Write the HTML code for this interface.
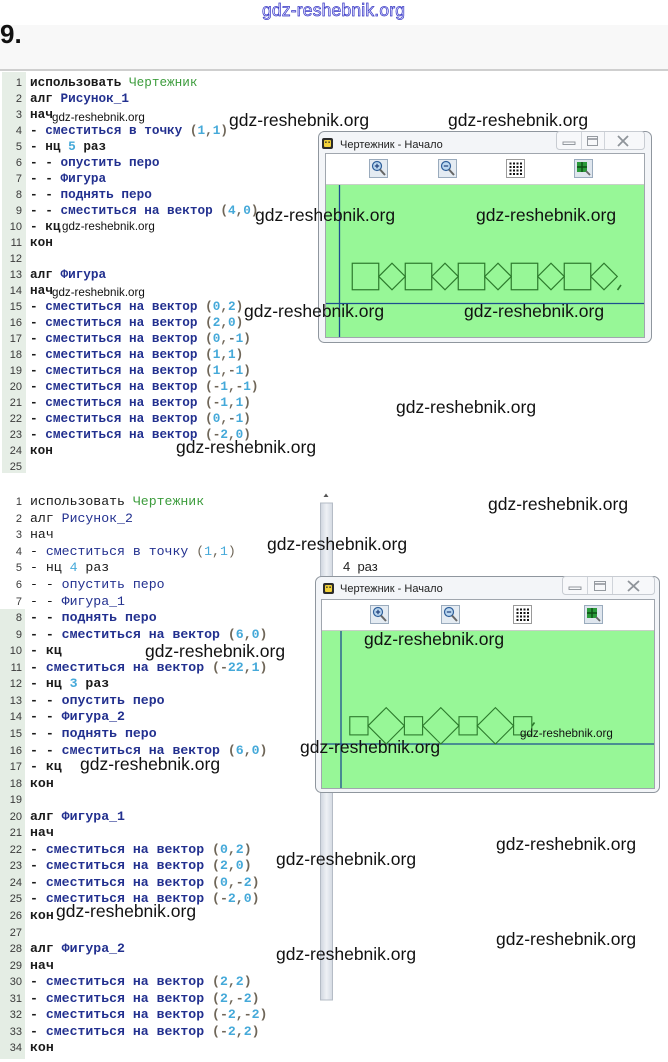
<!DOCTYPE html>
<html><head><meta charset="utf-8">
<style>
html,body{margin:0;padding:0;}
body{width:668px;height:1062px;position:relative;overflow:hidden;background:#fff;font-family:"Liberation Sans","Noto Sans CJK SC",sans-serif;}
.abs{position:absolute;}
.code{position:absolute;left:0;font-family:"Liberation Mono","DejaVu Sans Mono",monospace;font-weight:bold;color:#1a1a1a;}
.code .l{position:relative;padding-left:30px;white-space:pre;}
.code .l i{position:absolute;left:0;width:22px;text-align:right;font-style:normal;font-weight:normal;font-family:"Liberation Sans",sans-serif;font-size:11px;color:#3a3a3a;}
.c1{top:74.6px;font-size:12.7px;}
.c1 .l{height:16px;line-height:16px;}
.c2{top:494.3px;font-size:13.2px;}
.c2 .l{height:16.55px;line-height:16.55px;}
.c2 .lt{font-weight:normal;}
.g{color:#3c9c3c;font-weight:normal;}
.b{color:#22308f;}
.n{color:#45a9d9;}
.p{color:#6f6658;}
.wm{position:absolute;font-family:"Liberation Sans",sans-serif;font-size:17.5px;line-height:20px;color:#111;white-space:nowrap;}
.ws{position:absolute;font-family:"Liberation Sans",sans-serif;font-size:11.6px;line-height:13px;color:#111;white-space:nowrap;}
</style></head>
<body>
<!-- header background -->
<div class="abs" style="left:0;top:25px;width:668px;height:45px;background:#f8f8f8;"></div>
<div class="abs" style="left:0;top:69px;width:668px;height:2px;background:#cfcfcf;"></div>
<!-- gutters -->
<div class="abs" style="left:2px;top:72px;width:24px;height:401px;background:#e6eee6;"></div>
<div class="abs" style="left:0;top:609px;width:25px;height:450px;background:#e4ede4;"></div>

<svg class="abs" style="left:0;top:0" width="668" height="1062" viewBox="0 0 668 1062" xmlns="http://www.w3.org/2000/svg">
  <text x="262" y="16" font-family="Liberation Sans, sans-serif" font-size="17.5" textLength="143" fill="#e4e4ff" stroke="#3636c4" stroke-width="0.7">gdz-reshebnik.org</text>
  <text x="0" y="43" font-family="Liberation Sans, sans-serif" font-size="26" font-weight="bold" fill="#111">9.</text>

  <!-- scrollbar -->
  <defs>
    <linearGradient id="sb" x1="0" x2="1" y1="0" y2="0">
      <stop offset="0" stop-color="#cfd5de"/><stop offset="0.5" stop-color="#eef1f5"/><stop offset="1" stop-color="#d3d9e2"/>
    </linearGradient>
  </defs>
  <rect x="320.5" y="503" width="12" height="497" fill="url(#sb)" stroke="#b5bcc6"/>
  <path d="M323.5 497 L326 493.5 L328.5 497 Z" fill="#555"/>

  <!-- WINDOW 1 -->
  <rect x="318.5" y="131.5" width="333" height="211" rx="6" fill="#f3f5f8" stroke="#8f969e"/>
  <rect x="322" y="138" width="11" height="11" rx="2" fill="#2b2b2b"/>
  <rect x="324" y="140" width="7" height="7" rx="1" fill="#f2d23a"/>
  <rect x="325.2" y="141.5" width="1.4" height="1.4" fill="#222"/><rect x="328.4" y="141.5" width="1.4" height="1.4" fill="#222"/>
  <text x="340" y="148" font-family="Liberation Sans, sans-serif" font-size="11" fill="#222">Чертежник - Начало</text>
  <rect x="556.5" y="131.5" width="88" height="18" rx="3" fill="#f7f8fa" stroke="#c8ccd2"/>
  <line x1="581.5" y1="132" x2="581.5" y2="149" stroke="#d0d4da"/>
  <line x1="604.5" y1="132" x2="604.5" y2="149" stroke="#d0d4da"/>
  <rect x="563" y="142" width="12" height="2.5" fill="none" stroke="#8a8f96" stroke-width="0.9"/>
  <rect x="587.5" y="136.5" width="10" height="9" fill="none" stroke="#8a8f96" stroke-width="0.9"/>
  <line x1="588" y1="139" x2="597" y2="139" stroke="#8a8f96" stroke-width="1.5"/>
  <path d="M618 136 L628 146 M628 136 L618 146" stroke="#8f949a" stroke-width="1.8"/>
  <rect x="325.5" y="153.5" width="319" height="184" fill="#fff" stroke="#a0a6ae"/>
  <rect x="326" y="185" width="318" height="152" fill="#97f797"/>
  <line x1="326" y1="184.5" x2="644" y2="184.5" stroke="#c8d0c8"/>
  <!-- toolbar icons w1 -->
  <g>
    <rect x="369.5" y="159.5" width="18" height="18" fill="#e4ebf2" stroke="#9aabbd"/>
    <circle cx="377" cy="166" r="4.5" fill="#bcd8f0" stroke="#2f5f9a" stroke-width="1.2"/>
    <path d="M374.8 166 H379.2 M377 163.8 V168.2" stroke="#1f3f7a" stroke-width="1.2"/>
    <line x1="380" y1="169.5" x2="385" y2="175" stroke="#666" stroke-width="2"/>
  </g>
  <g>
    <rect x="438.5" y="159.5" width="18" height="18" fill="#e4ebf2" stroke="#9aabbd"/>
    <circle cx="446" cy="166" r="4.5" fill="#bcd8f0" stroke="#2f5f9a" stroke-width="1.2"/>
    <path d="M443.8 166 H448.2" stroke="#1f3f7a" stroke-width="1.2"/>
    <line x1="449" y1="169.5" x2="454" y2="175" stroke="#666" stroke-width="2"/>
  </g>
  <g>
    <rect x="506.5" y="159.5" width="18" height="18" fill="#fff" stroke="#9a9a9a"/>
    <g fill="#111">
      <rect x="509.5" y="162.5" width="2" height="2"/><rect x="513" y="162.5" width="2" height="2"/><rect x="516.5" y="162.5" width="2" height="2"/><rect x="520" y="162.5" width="2" height="2"/>
      <rect x="509.5" y="166" width="2" height="2"/><rect x="513" y="166" width="2" height="2"/><rect x="516.5" y="166" width="2" height="2"/><rect x="520" y="166" width="2" height="2"/>
      <rect x="509.5" y="169.5" width="2" height="2"/><rect x="513" y="169.5" width="2" height="2"/><rect x="516.5" y="169.5" width="2" height="2"/><rect x="520" y="169.5" width="2" height="2"/>
      <rect x="509.5" y="173" width="2" height="2"/><rect x="513" y="173" width="2" height="2"/><rect x="516.5" y="173" width="2" height="2"/><rect x="520" y="173" width="2" height="2"/>
    </g>
  </g>
  <g>
    <rect x="574.5" y="159.5" width="18" height="18" fill="#dfe6ee" stroke="#9aabbd"/>
    <rect x="577" y="162" width="10" height="10" fill="#2a9a3a"/>
    <path d="M582 162 V172 M577 167 H587" stroke="#0d4d15" stroke-width="1.4"/>
    <line x1="586" y1="171" x2="590" y2="175" stroke="#666" stroke-width="1.8"/>
  </g>
  <!-- axes w1 -->
  <line x1="339.5" y1="185" x2="339.5" y2="337" stroke="#1d4f8f" stroke-width="1.3"/>
  <line x1="326" y1="303.5" x2="644" y2="303.5" stroke="#1d4f8f" stroke-width="1.3"/>
  <!-- figures w1 -->
  <g fill="none" stroke="#2c7a2c" stroke-width="1.2">
    <rect x="352.25" y="263.25" width="26.5" height="26.5"/>
    <path d="M378.75 276.5 L392 263.25 L405.25 276.5 L392 289.75 Z"/>
    <rect x="405.25" y="263.25" width="26.5" height="26.5"/>
    <path d="M431.75 276.5 L445 263.25 L458.25 276.5 L445 289.75 Z"/>
    <rect x="458.25" y="263.25" width="26.5" height="26.5"/>
    <path d="M484.75 276.5 L498 263.25 L511.25 276.5 L498 289.75 Z"/>
    <rect x="511.25" y="263.25" width="26.5" height="26.5"/>
    <path d="M537.75 276.5 L551 263.25 L564.25 276.5 L551 289.75 Z"/>
    <rect x="564.25" y="263.25" width="26.5" height="26.5"/>
    <path d="M590.75 276.5 L604 263.25 L617.25 276.5 L604 289.75 Z"/>
    <path d="M617.5 290 L621 285" stroke-width="1.6"/>
  </g>

  <!-- WINDOW 2 -->
  <rect x="315.5" y="576.5" width="344" height="216" rx="6" fill="#f3f5f8" stroke="#8f969e"/>
  <rect x="323" y="583" width="11" height="11" rx="2" fill="#2b2b2b"/>
  <rect x="325" y="585" width="7" height="7" rx="1" fill="#f2d23a"/>
  <rect x="326.2" y="586.5" width="1.4" height="1.4" fill="#222"/><rect x="329.4" y="586.5" width="1.4" height="1.4" fill="#222"/>
  <text x="340" y="592" font-family="Liberation Sans, sans-serif" font-size="11" fill="#222">Чертежник - Начало</text>
  <rect x="562.5" y="576.5" width="92" height="18" rx="3" fill="#f7f8fa" stroke="#c8ccd2"/>
  <line x1="587.5" y1="577" x2="587.5" y2="594" stroke="#d0d4da"/>
  <line x1="612.5" y1="577" x2="612.5" y2="594" stroke="#d0d4da"/>
  <rect x="569" y="587" width="12" height="2.5" fill="none" stroke="#8a8f96" stroke-width="0.9"/>
  <rect x="594.5" y="581.5" width="11" height="9" fill="none" stroke="#8a8f96" stroke-width="0.9"/>
  <line x1="595" y1="584" x2="605" y2="584" stroke="#8a8f96" stroke-width="1.5"/>
  <path d="M628 581 L639 591 M639 581 L628 591" stroke="#8f949a" stroke-width="1.8"/>
  <rect x="321.5" y="599.5" width="333" height="189" fill="#fff" stroke="#a0a6ae"/>
  <rect x="322" y="631" width="332" height="157" fill="#97f797"/>
  <line x1="322" y1="630.5" x2="654" y2="630.5" stroke="#c8d0c8"/>
  <!-- toolbar icons w2 -->
  <g>
    <rect x="370.5" y="605.5" width="18" height="18" fill="#e4ebf2" stroke="#9aabbd"/>
    <circle cx="378" cy="612" r="4.5" fill="#bcd8f0" stroke="#2f5f9a" stroke-width="1.2"/>
    <path d="M375.8 612 H380.2 M378 609.8 V614.2" stroke="#1f3f7a" stroke-width="1.2"/>
    <line x1="381" y1="615.5" x2="386" y2="621" stroke="#666" stroke-width="2"/>
  </g>
  <g>
    <rect x="441.5" y="605.5" width="18" height="18" fill="#e4ebf2" stroke="#9aabbd"/>
    <circle cx="449" cy="612" r="4.5" fill="#bcd8f0" stroke="#2f5f9a" stroke-width="1.2"/>
    <path d="M446.8 612 H451.2" stroke="#1f3f7a" stroke-width="1.2"/>
    <line x1="452" y1="615.5" x2="457" y2="621" stroke="#666" stroke-width="2"/>
  </g>
  <g>
    <rect x="513.5" y="605.5" width="18" height="18" fill="#fff" stroke="#9a9a9a"/>
    <g fill="#111">
      <rect x="516.5" y="608.5" width="2" height="2"/><rect x="520" y="608.5" width="2" height="2"/><rect x="523.5" y="608.5" width="2" height="2"/><rect x="527" y="608.5" width="2" height="2"/>
      <rect x="516.5" y="612" width="2" height="2"/><rect x="520" y="612" width="2" height="2"/><rect x="523.5" y="612" width="2" height="2"/><rect x="527" y="612" width="2" height="2"/>
      <rect x="516.5" y="615.5" width="2" height="2"/><rect x="520" y="615.5" width="2" height="2"/><rect x="523.5" y="615.5" width="2" height="2"/><rect x="527" y="615.5" width="2" height="2"/>
      <rect x="516.5" y="619" width="2" height="2"/><rect x="520" y="619" width="2" height="2"/><rect x="523.5" y="619" width="2" height="2"/><rect x="527" y="619" width="2" height="2"/>
    </g>
  </g>
  <g>
    <rect x="584.5" y="605.5" width="18" height="18" fill="#dfe6ee" stroke="#9aabbd"/>
    <rect x="587" y="608" width="10" height="10" fill="#2a9a3a"/>
    <path d="M592 608 V618 M587 613 H597" stroke="#0d4d15" stroke-width="1.4"/>
    <line x1="596" y1="617" x2="600" y2="621" stroke="#666" stroke-width="1.8"/>
  </g>
  <!-- axes w2 -->
  <line x1="341" y1="631" x2="341" y2="788" stroke="#1d4f8f" stroke-width="1.3"/>
  <line x1="322" y1="744" x2="654" y2="744" stroke="#1d4f8f" stroke-width="1.3"/>
  <!-- figures w2 -->
  <g fill="none" stroke="#2c7a2c" stroke-width="1.1">
    <rect x="349.8" y="716.7" width="18.2" height="18.2"/>
    <rect x="404.4" y="716.7" width="18.2" height="18.2"/>
    <rect x="459" y="716.7" width="18.2" height="18.2"/>
    <rect x="513.6" y="716.7" width="18.2" height="18.2"/>
    <path d="M368 725.8 L386.2 707.6 L404.4 725.8 L386.2 744 Z"/>
    <path d="M422.6 725.8 L440.8 707.6 L459 725.8 L440.8 744 Z"/>
    <path d="M477.2 725.8 L495.4 707.6 L513.6 725.8 L495.4 744 Z"/>
    <path d="M532 726 L534.5 722.5" stroke-width="1.6"/>
  </g>
</svg>

<div class="abs" style="left:343px;top:559px;font-size:13px;line-height:16px;color:#222;white-space:pre;font-family:'Liberation Sans',sans-serif;">4  раз</div>

<!-- CODE BLOCK 1 -->
<div class="code c1">
<div class="l"><i>1</i>использовать <span class="g">Чертежник</span></div>
<div class="l"><i>2</i>алг <span class="b">Рисунок_1</span></div>
<div class="l"><i>3</i>нач</div>
<div class="l"><i>4</i>- <span class="b">сместиться в точку</span> <span class="p">(</span><span class="n">1</span><span class="p">,</span><span class="n">1</span><span class="p">)</span></div>
<div class="l"><i>5</i>- нц <span class="n">5</span> раз</div>
<div class="l"><i>6</i>- - <span class="b">опустить перо</span></div>
<div class="l"><i>7</i>- - <span class="b">Фигура</span></div>
<div class="l"><i>8</i>- - <span class="b">поднять перо</span></div>
<div class="l"><i>9</i>- - <span class="b">сместиться на вектор</span> <span class="p">(</span><span class="n">4</span><span class="p">,</span><span class="n">0</span><span class="p">)</span></div>
<div class="l"><i>10</i>- кц</div>
<div class="l"><i>11</i>кон</div>
<div class="l"><i>12</i></div>
<div class="l"><i>13</i>алг <span class="b">Фигура</span></div>
<div class="l"><i>14</i>нач</div>
<div class="l"><i>15</i>- <span class="b">сместиться на вектор</span> <span class="p">(</span><span class="n">0</span><span class="p">,</span><span class="n">2</span><span class="p">)</span></div>
<div class="l"><i>16</i>- <span class="b">сместиться на вектор</span> <span class="p">(</span><span class="n">2</span><span class="p">,</span><span class="n">0</span><span class="p">)</span></div>
<div class="l"><i>17</i>- <span class="b">сместиться на вектор</span> <span class="p">(</span><span class="n">0</span><span class="p">,-</span><span class="n">1</span><span class="p">)</span></div>
<div class="l"><i>18</i>- <span class="b">сместиться на вектор</span> <span class="p">(</span><span class="n">1</span><span class="p">,</span><span class="n">1</span><span class="p">)</span></div>
<div class="l"><i>19</i>- <span class="b">сместиться на вектор</span> <span class="p">(</span><span class="n">1</span><span class="p">,-</span><span class="n">1</span><span class="p">)</span></div>
<div class="l"><i>20</i>- <span class="b">сместиться на вектор</span> <span class="p">(-</span><span class="n">1</span><span class="p">,-</span><span class="n">1</span><span class="p">)</span></div>
<div class="l"><i>21</i>- <span class="b">сместиться на вектор</span> <span class="p">(-</span><span class="n">1</span><span class="p">,</span><span class="n">1</span><span class="p">)</span></div>
<div class="l"><i>22</i>- <span class="b">сместиться на вектор</span> <span class="p">(</span><span class="n">0</span><span class="p">,-</span><span class="n">1</span><span class="p">)</span></div>
<div class="l"><i>23</i>- <span class="b">сместиться на вектор</span> <span class="p">(-</span><span class="n">2</span><span class="p">,</span><span class="n">0</span><span class="p">)</span></div>
<div class="l"><i>24</i>кон</div>
<div class="l"><i>25</i></div>
</div>

<!-- CODE BLOCK 2 -->
<div class="code c2">
<div class="l lt"><i>1</i>использовать <span class="g">Чертежник</span></div>
<div class="l lt"><i>2</i>алг <span class="b">Рисунок_2</span></div>
<div class="l lt"><i>3</i>нач</div>
<div class="l lt"><i>4</i>- <span class="b">сместиться в точку</span> <span class="p">(</span><span class="n">1</span><span class="p">,</span><span class="n">1</span><span class="p">)</span></div>
<div class="l lt"><i>5</i>- нц <span class="n">4</span> раз</div>
<div class="l lt"><i>6</i>- - <span class="b">опустить перо</span></div>
<div class="l lt"><i>7</i>- - <span class="b">Фигура_1</span></div>
<div class="l"><i>8</i>- - <span class="b">поднять перо</span></div>
<div class="l"><i>9</i>- - <span class="b">сместиться на вектор</span> <span class="p">(</span><span class="n">6</span><span class="p">,</span><span class="n">0</span><span class="p">)</span></div>
<div class="l"><i>10</i>- кц</div>
<div class="l"><i>11</i>- <span class="b">сместиться на вектор</span> <span class="p">(-</span><span class="n">22</span><span class="p">,</span><span class="n">1</span><span class="p">)</span></div>
<div class="l"><i>12</i>- нц <span class="n">3</span> раз</div>
<div class="l"><i>13</i>- - <span class="b">опустить перо</span></div>
<div class="l"><i>14</i>- - <span class="b">Фигура_2</span></div>
<div class="l"><i>15</i>- - <span class="b">поднять перо</span></div>
<div class="l"><i>16</i>- - <span class="b">сместиться на вектор</span> <span class="p">(</span><span class="n">6</span><span class="p">,</span><span class="n">0</span><span class="p">)</span></div>
<div class="l"><i>17</i>- кц</div>
<div class="l"><i>18</i>кон</div>
<div class="l"><i>19</i></div>
<div class="l"><i>20</i>алг <span class="b">Фигура_1</span></div>
<div class="l"><i>21</i>нач</div>
<div class="l"><i>22</i>- <span class="b">сместиться на вектор</span> <span class="p">(</span><span class="n">0</span><span class="p">,</span><span class="n">2</span><span class="p">)</span></div>
<div class="l"><i>23</i>- <span class="b">сместиться на вектор</span> <span class="p">(</span><span class="n">2</span><span class="p">,</span><span class="n">0</span><span class="p">)</span></div>
<div class="l"><i>24</i>- <span class="b">сместиться на вектор</span> <span class="p">(</span><span class="n">0</span><span class="p">,-</span><span class="n">2</span><span class="p">)</span></div>
<div class="l"><i>25</i>- <span class="b">сместиться на вектор</span> <span class="p">(-</span><span class="n">2</span><span class="p">,</span><span class="n">0</span><span class="p">)</span></div>
<div class="l"><i>26</i>кон</div>
<div class="l"><i>27</i></div>
<div class="l"><i>28</i>алг <span class="b">Фигура_2</span></div>
<div class="l"><i>29</i>нач</div>
<div class="l"><i>30</i>- <span class="b">сместиться на вектор</span> <span class="p">(</span><span class="n">2</span><span class="p">,</span><span class="n">2</span><span class="p">)</span></div>
<div class="l"><i>31</i>- <span class="b">сместиться на вектор</span> <span class="p">(</span><span class="n">2</span><span class="p">,-</span><span class="n">2</span><span class="p">)</span></div>
<div class="l"><i>32</i>- <span class="b">сместиться на вектор</span> <span class="p">(-</span><span class="n">2</span><span class="p">,-</span><span class="n">2</span><span class="p">)</span></div>
<div class="l"><i>33</i>- <span class="b">сместиться на вектор</span> <span class="p">(-</span><span class="n">2</span><span class="p">,</span><span class="n">2</span><span class="p">)</span></div>
<div class="l"><i>34</i>кон</div>
</div>

<!-- WATERMARKS -->
<div class="wm" style="left:229px;top:110px;">gdz-reshebnik.org</div>
<div class="wm" style="left:448px;top:110px;">gdz-reshebnik.org</div>
<div class="wm" style="left:255px;top:205px;">gdz-reshebnik.org</div>
<div class="wm" style="left:476px;top:205px;">gdz-reshebnik.org</div>
<div class="wm" style="left:244px;top:301px;">gdz-reshebnik.org</div>
<div class="wm" style="left:464px;top:301px;">gdz-reshebnik.org</div>
<div class="wm" style="left:396px;top:397px;">gdz-reshebnik.org</div>
<div class="wm" style="left:176px;top:437px;">gdz-reshebnik.org</div>
<div class="wm" style="left:488px;top:494px;">gdz-reshebnik.org</div>
<div class="wm" style="left:267px;top:534px;">gdz-reshebnik.org</div>
<div class="wm" style="left:364px;top:629px;">gdz-reshebnik.org</div>
<div class="wm" style="left:145px;top:641px;">gdz-reshebnik.org</div>
<div class="wm" style="left:300px;top:737px;">gdz-reshebnik.org</div>
<div class="wm" style="left:80px;top:754px;">gdz-reshebnik.org</div>
<div class="wm" style="left:496px;top:834px;">gdz-reshebnik.org</div>
<div class="wm" style="left:276px;top:849px;">gdz-reshebnik.org</div>
<div class="wm" style="left:56px;top:901px;">gdz-reshebnik.org</div>
<div class="wm" style="left:496px;top:929px;">gdz-reshebnik.org</div>
<div class="wm" style="left:276px;top:944px;">gdz-reshebnik.org</div>

<div class="ws" style="left:52px;top:111px;">gdz-reshebnik.org</div>
<div class="ws" style="left:62px;top:220px;">gdz-reshebnik.org</div>
<div class="ws" style="left:52px;top:286px;">gdz-reshebnik.org</div>
<div class="ws" style="left:520px;top:727px;">gdz-reshebnik.org</div>
</body></html>
